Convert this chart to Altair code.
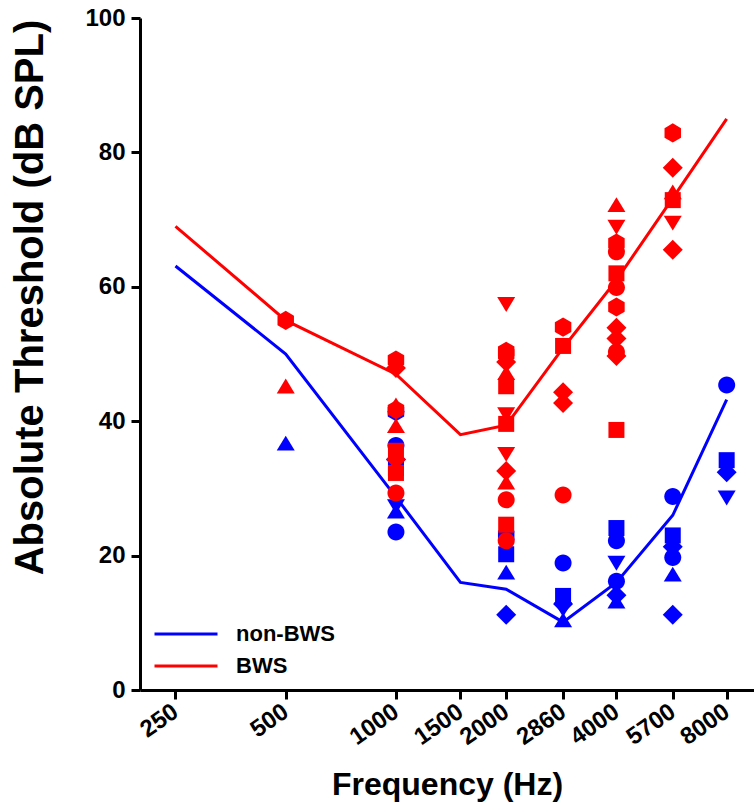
import altair as alt
import pandas as pd

FONT = "Liberation Sans"

# ---- data -------------------------------------------------------------
freq_ticks = [250, 500, 1000, 1500, 2000, 2860, 4000, 5700, 8000]

line_freq = [250, 500, 1000, 1500, 2000, 2860, 4000, 5700, 8000]
nonbws_line = [63.1, 50.0, 28.7, 16.0, 15.0, 10.1, 16.0, 26.0, 43.2]
bws_line = [69.0, 55.0, 47.0, 38.0, 39.4, 50.9, 61.0, 73.2, 85.0]

blue_freq = [500,
             1000, 1000, 1000, 1000, 1000, 1000, 1000,
             2000, 2000, 2000, 2000,
             2860, 2860, 2860, 2860, 2860,
             4000, 4000, 4000, 4000, 4000, 4000,
             5700, 5700, 5700, 5700, 5700, 5700,
             8000, 8000, 8000, 8000]
blue_db = [36.7,
           41.4, 36.4, 34.3, 33.0, 27.3, 26.6, 23.5,
           23.0, 20.2, 17.5, 11.2,
           18.9, 14.0, 12.8, 12.0, 10.4,
           24.1, 22.2, 18.9, 16.2, 14.1, 13.2,
           28.8, 23.0, 21.3, 19.7, 17.2, 11.2,
           45.4, 34.2, 32.4, 28.6]
blue_shape = ["triangle-up",
              "hexagon", "circle", "diamond", "square", "triangle-down", "triangle-up", "circle",
              "hexagon", "square", "triangle-up", "diamond",
              "circle", "square", "diamond", "triangle-down", "triangle-up",
              "square", "circle", "triangle-down", "circle", "diamond", "triangle-up",
              "circle", "square", "diamond", "circle", "triangle-up", "diamond",
              "circle", "square", "diamond", "triangle-down"]

red_freq = [500, 500,
            1000, 1000, 1000, 1000, 1000, 1000, 1000, 1000, 1000,
            2000, 2000, 2000, 2000, 2000, 2000, 2000, 2000, 2000, 2000, 2000, 2000, 2000, 2000,
            2860, 2860, 2860, 2860, 2860,
            4000, 4000, 4000, 4000, 4000, 4000, 4000, 4000, 4000, 4000, 4000, 4000,
            5700, 5700, 5700, 5700, 5700, 5700]
red_db = [55.0, 45.2,
          49.1, 47.9, 42.4, 41.7, 39.3, 35.6, 34.3, 32.3, 29.3,
          57.4, 50.4, 48.8, 47.2, 45.2, 41.0, 39.6, 35.1, 32.6, 30.9, 28.3, 24.6, 22.2, 50.0,
          54.0, 51.2, 44.3, 42.7, 29.0,
          72.2, 68.9, 66.5, 65.2, 62.0, 59.9, 57.0, 53.9, 52.3, 50.3, 49.7, 38.7,
          82.9, 77.7, 74.1, 72.9, 69.5, 65.5]
red_shape = ["hexagon", "triangle-up",
             "hexagon", "diamond", "triangle-up", "hexagon", "triangle-up", "square", "diamond", "square", "circle",
             "triangle-down", "hexagon", "diamond", "triangle-up", "square", "triangle-down", "square",
             "triangle-down", "diamond", "triangle-up", "circle", "square", "circle", "hexagon",
             "hexagon", "square", "diamond", "diamond", "circle",
             "triangle-up", "triangle-down", "hexagon", "circle", "square", "circle", "hexagon",
             "diamond", "diamond", "circle", "diamond", "square",
             "hexagon", "diamond", "triangle-up", "square", "triangle-down", "diamond"]

groups = ["non-BWS", "BWS"]
group_colors = ["#0000ff", "#ff0000"]

shape_names = ["circle", "square", "triangle-up", "triangle-down", "diamond", "hexagon"]
shape_paths = [
    "M-0.944,0A0.944,0.944,0,1,0,0.944,0A0.944,0.944,0,1,0,-0.944,0Z",
    "M-0.889,-0.889H0.889V0.889H-0.889Z",
    "M0,-0.85L1,0.8L-1,0.8Z",
    "M0,0.85L1,-0.8L-1,-0.8Z",
    "M0,-1.11L1.11,0L0,1.11L-1.11,0Z",
    "M0,-1.06L0.915,-0.53L0.915,0.53L0,1.06L-0.915,0.53L-0.915,-0.53Z",
]

# ---- tables -------------------------------------------------------------
lines_df = pd.DataFrame({
    "freq": line_freq * 2,
    "db": nonbws_line + bws_line,
    "group": ["non-BWS"] * len(line_freq) + ["BWS"] * len(line_freq),
})
points_df = pd.DataFrame({
    "freq": blue_freq + red_freq,
    "db": blue_db + red_db,
    "shape": blue_shape + red_shape,
    "group": ["non-BWS"] * len(blue_freq) + ["BWS"] * len(red_freq),
    "order": list(range(len(blue_freq) + len(red_freq))),
})

LABEL = dict(labelFont=FONT, labelFontWeight="bold", labelFontSize=24, labelColor="black")
TITLE = dict(titleFont=FONT, titleFontWeight="bold", titleColor="black")

x_enc = alt.X("freq:Q",
              scale=alt.Scale(type="log", domain=[200, 9500], nice=False),
              axis=alt.Axis(values=freq_ticks, format="d", labelAngle=-35,
                            labelAlign="right", labelBaseline="middle",
                            labelOverlap=False, labelPadding=10,
                            title="Frequency (Hz)", titlePadding=20,
                            titleFontSize=32, **LABEL, **TITLE))
y_enc = alt.Y("db:Q",
              scale=alt.Scale(domain=[0, 100], nice=False),
              axis=alt.Axis(values=[0, 20, 40, 60, 80, 100], labelPadding=6,
                            title="Absolute Threshold (dB SPL)",
                            titleX=-110, titleY=279, titleBaseline="middle",
                            titleAlign="center", titleFontSize=40, **LABEL, **TITLE))

color_scale = alt.Scale(domain=groups, range=group_colors)

lines = alt.Chart(lines_df).mark_line(strokeWidth=3, clip=False).encode(
    x=x_enc, y=y_enc,
    color=alt.Color("group:N", scale=color_scale, sort=groups,
                    legend=alt.Legend(orient="none", legendX=34, legendY=604,
                                      title=None, symbolType="M-3,0H3",
                                      symbolSize=441, symbolStrokeWidth=3,
                                      labelFontSize=22, labelFontWeight="bold",
                                      labelFont=FONT, labelColor="black",
                                      labelOffset=38, rowPadding=9, padding=0)),
    detail="group:N",
)

points = alt.Chart(points_df).mark_point(filled=True, opacity=1, size=324, strokeWidth=0).encode(
    x=alt.X("freq:Q", scale=alt.Scale(type="log", domain=[200, 9500], nice=False)),
    y=alt.Y("db:Q", scale=alt.Scale(domain=[0, 100], nice=False)),
    color=alt.Color("group:N", scale=color_scale, legend=None),
    shape=alt.Shape("shape:N", scale=alt.Scale(domain=shape_names, range=shape_paths), legend=None),
    order=alt.Order("order:Q"),
)

chart = alt.layer(lines, points).properties(
    width=614, height=672,
    autosize="none",
    padding={"left": 140, "top": 18, "right": 0, "bottom": 121},
).configure_view(stroke=None).configure_axis(
    grid=False,
    domainColor="black", domainWidth=3,
    tickColor="black", tickWidth=3, tickSize=9,
)

chart.save("out.html", embed_options={"renderer": "svg", "actions": False})
